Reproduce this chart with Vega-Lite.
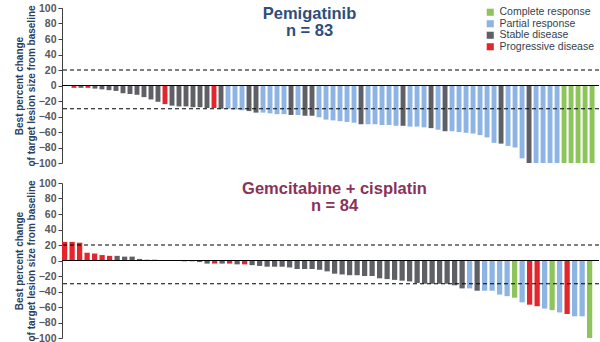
{
  "$schema": "https://vega.github.io/schema/vega-lite/v6.json",
  "padding": {"left": 13, "top": 3, "right": 2, "bottom": 0},
  "spacing": 9,
  "config": {
    "font": "Liberation Sans",
    "view": {"stroke": null},
    "axisY": {
      "grid": false,
      "tickCount": 11,
      "labelFontSize": 10.5,
      "labelFontWeight": "bold",
      "labelColor": "#595959",
      "labelPadding": 2,
      "labelOverlap": false,
      "tickSize": 4,
      "tickColor": "#404040",
      "domainColor": "#404040",
      "titleFontSize": 10,
      "titleFontWeight": "bold",
      "titleColor": "#2d3e5c",
      "titleLineHeight": 12,
      "titleX": -38,
      "titleY": 77.5
    }
  },
  "datasets": {
    "pemigatinib": [
      {"rank": 1, "change": -3, "response": "Progressive disease"},
      {"rank": 2, "change": -3, "response": "Stable disease"},
      {"rank": 3, "change": -3, "response": "Progressive disease"},
      {"rank": 4, "change": -4, "response": "Stable disease"},
      {"rank": 5, "change": -5, "response": "Stable disease"},
      {"rank": 6, "change": -6, "response": "Stable disease"},
      {"rank": 7, "change": -7, "response": "Stable disease"},
      {"rank": 8, "change": -10, "response": "Stable disease"},
      {"rank": 9, "change": -11, "response": "Stable disease"},
      {"rank": 10, "change": -12, "response": "Stable disease"},
      {"rank": 11, "change": -15, "response": "Stable disease"},
      {"rank": 12, "change": -18, "response": "Stable disease"},
      {"rank": 13, "change": -21, "response": "Stable disease"},
      {"rank": 14, "change": -24, "response": "Progressive disease"},
      {"rank": 15, "change": -26, "response": "Stable disease"},
      {"rank": 16, "change": -27, "response": "Stable disease"},
      {"rank": 17, "change": -27, "response": "Stable disease"},
      {"rank": 18, "change": -28, "response": "Stable disease"},
      {"rank": 19, "change": -28, "response": "Stable disease"},
      {"rank": 20, "change": -29, "response": "Stable disease"},
      {"rank": 21, "change": -29, "response": "Progressive disease"},
      {"rank": 22, "change": -30, "response": "Stable disease"},
      {"rank": 23, "change": -30, "response": "Partial response"},
      {"rank": 24, "change": -31, "response": "Partial response"},
      {"rank": 25, "change": -32, "response": "Partial response"},
      {"rank": 26, "change": -33, "response": "Stable disease"},
      {"rank": 27, "change": -35, "response": "Stable disease"},
      {"rank": 28, "change": -35, "response": "Partial response"},
      {"rank": 29, "change": -36, "response": "Partial response"},
      {"rank": 30, "change": -37, "response": "Partial response"},
      {"rank": 31, "change": -37, "response": "Partial response"},
      {"rank": 32, "change": -38, "response": "Stable disease"},
      {"rank": 33, "change": -38, "response": "Partial response"},
      {"rank": 34, "change": -39, "response": "Stable disease"},
      {"rank": 35, "change": -39, "response": "Stable disease"},
      {"rank": 36, "change": -41, "response": "Partial response"},
      {"rank": 37, "change": -44, "response": "Partial response"},
      {"rank": 38, "change": -45, "response": "Partial response"},
      {"rank": 39, "change": -46, "response": "Partial response"},
      {"rank": 40, "change": -47, "response": "Partial response"},
      {"rank": 41, "change": -48, "response": "Partial response"},
      {"rank": 42, "change": -50, "response": "Stable disease"},
      {"rank": 43, "change": -50, "response": "Partial response"},
      {"rank": 44, "change": -50, "response": "Partial response"},
      {"rank": 45, "change": -51, "response": "Partial response"},
      {"rank": 46, "change": -51, "response": "Partial response"},
      {"rank": 47, "change": -52, "response": "Partial response"},
      {"rank": 48, "change": -52, "response": "Stable disease"},
      {"rank": 49, "change": -53, "response": "Partial response"},
      {"rank": 50, "change": -53, "response": "Partial response"},
      {"rank": 51, "change": -54, "response": "Partial response"},
      {"rank": 52, "change": -55, "response": "Stable disease"},
      {"rank": 53, "change": -57, "response": "Partial response"},
      {"rank": 54, "change": -59, "response": "Stable disease"},
      {"rank": 55, "change": -59, "response": "Partial response"},
      {"rank": 56, "change": -60, "response": "Partial response"},
      {"rank": 57, "change": -61, "response": "Partial response"},
      {"rank": 58, "change": -62, "response": "Partial response"},
      {"rank": 59, "change": -64, "response": "Partial response"},
      {"rank": 60, "change": -67, "response": "Partial response"},
      {"rank": 61, "change": -74, "response": "Partial response"},
      {"rank": 62, "change": -75, "response": "Stable disease"},
      {"rank": 63, "change": -78, "response": "Partial response"},
      {"rank": 64, "change": -80, "response": "Partial response"},
      {"rank": 65, "change": -94, "response": "Partial response"},
      {"rank": 66, "change": -100, "response": "Stable disease"},
      {"rank": 67, "change": -100, "response": "Partial response"},
      {"rank": 68, "change": -100, "response": "Partial response"},
      {"rank": 69, "change": -100, "response": "Partial response"},
      {"rank": 70, "change": -100, "response": "Partial response"},
      {"rank": 71, "change": -100, "response": "Complete response"},
      {"rank": 72, "change": -100, "response": "Complete response"},
      {"rank": 73, "change": -100, "response": "Complete response"},
      {"rank": 74, "change": -100, "response": "Complete response"},
      {"rank": 75, "change": -100, "response": "Complete response"}
    ],
    "gemcis": [
      {"rank": 1, "change": 24, "response": "Progressive disease"},
      {"rank": 2, "change": 24, "response": "Progressive disease"},
      {"rank": 3, "change": 23, "response": "Progressive disease"},
      {"rank": 4, "change": 10, "response": "Progressive disease"},
      {"rank": 5, "change": 9, "response": "Progressive disease"},
      {"rank": 6, "change": 7, "response": "Progressive disease"},
      {"rank": 7, "change": 6, "response": "Progressive disease"},
      {"rank": 8, "change": 6, "response": "Stable disease"},
      {"rank": 9, "change": 5, "response": "Stable disease"},
      {"rank": 10, "change": 5, "response": "Stable disease"},
      {"rank": 11, "change": 2, "response": "Stable disease"},
      {"rank": 12, "change": 1, "response": "Stable disease"},
      {"rank": 13, "change": 1, "response": "Stable disease"},
      {"rank": 14, "change": 0.5, "response": "Stable disease"},
      {"rank": 15, "change": 0, "response": "Stable disease"},
      {"rank": 16, "change": 0, "response": "Stable disease"},
      {"rank": 17, "change": -1, "response": "Stable disease"},
      {"rank": 18, "change": -1, "response": "Stable disease"},
      {"rank": 19, "change": -2, "response": "Stable disease"},
      {"rank": 20, "change": -4, "response": "Stable disease"},
      {"rank": 21, "change": -4, "response": "Progressive disease"},
      {"rank": 22, "change": -4, "response": "Stable disease"},
      {"rank": 23, "change": -4, "response": "Progressive disease"},
      {"rank": 24, "change": -5, "response": "Stable disease"},
      {"rank": 25, "change": -5, "response": "Progressive disease"},
      {"rank": 26, "change": -6, "response": "Stable disease"},
      {"rank": 27, "change": -7, "response": "Stable disease"},
      {"rank": 28, "change": -8, "response": "Stable disease"},
      {"rank": 29, "change": -8, "response": "Stable disease"},
      {"rank": 30, "change": -8, "response": "Stable disease"},
      {"rank": 31, "change": -9, "response": "Stable disease"},
      {"rank": 32, "change": -11, "response": "Stable disease"},
      {"rank": 33, "change": -11, "response": "Stable disease"},
      {"rank": 34, "change": -11, "response": "Stable disease"},
      {"rank": 35, "change": -12, "response": "Stable disease"},
      {"rank": 36, "change": -14, "response": "Stable disease"},
      {"rank": 37, "change": -17, "response": "Stable disease"},
      {"rank": 38, "change": -18, "response": "Stable disease"},
      {"rank": 39, "change": -19, "response": "Stable disease"},
      {"rank": 40, "change": -19, "response": "Stable disease"},
      {"rank": 41, "change": -20, "response": "Stable disease"},
      {"rank": 42, "change": -20, "response": "Stable disease"},
      {"rank": 43, "change": -23, "response": "Stable disease"},
      {"rank": 44, "change": -24, "response": "Stable disease"},
      {"rank": 45, "change": -25, "response": "Stable disease"},
      {"rank": 46, "change": -26, "response": "Stable disease"},
      {"rank": 47, "change": -27, "response": "Stable disease"},
      {"rank": 48, "change": -29, "response": "Stable disease"},
      {"rank": 49, "change": -30, "response": "Stable disease"},
      {"rank": 50, "change": -30, "response": "Stable disease"},
      {"rank": 51, "change": -30, "response": "Stable disease"},
      {"rank": 52, "change": -30, "response": "Stable disease"},
      {"rank": 53, "change": -32, "response": "Stable disease"},
      {"rank": 54, "change": -36, "response": "Stable disease"},
      {"rank": 55, "change": -36, "response": "Partial response"},
      {"rank": 56, "change": -39, "response": "Stable disease"},
      {"rank": 57, "change": -39, "response": "Partial response"},
      {"rank": 58, "change": -39, "response": "Partial response"},
      {"rank": 59, "change": -44, "response": "Partial response"},
      {"rank": 60, "change": -46, "response": "Partial response"},
      {"rank": 61, "change": -48, "response": "Complete response"},
      {"rank": 62, "change": -54, "response": "Partial response"},
      {"rank": 63, "change": -57, "response": "Progressive disease"},
      {"rank": 64, "change": -59, "response": "Progressive disease"},
      {"rank": 65, "change": -62, "response": "Partial response"},
      {"rank": 66, "change": -64, "response": "Complete response"},
      {"rank": 67, "change": -67, "response": "Partial response"},
      {"rank": 68, "change": -69, "response": "Progressive disease"},
      {"rank": 69, "change": -72, "response": "Partial response"},
      {"rank": 70, "change": -72, "response": "Partial response"},
      {"rank": 71, "change": -100, "response": "Complete response"}
    ]
  },
  "resolve": {"legend": {"color": "independent"}},
  "vconcat": [
    {
      "width": 537,
      "height": 155,
      "title": {
        "text": ["Pemigatinib", "n = 83"],
        "color": "#2f4d7c",
        "fontSize": 16.5,
        "fontWeight": "bold",
        "lineHeight": 16.5,
        "anchor": "middle",
        "offset": -36,
        "dx": -21
      },
      "data": {"name": "pemigatinib"},
      "layer": [
        {
          "mark": {"type": "bar"},
          "encoding": {
            "x": {
              "field": "rank",
              "type": "ordinal",
              "axis": null,
              "scale": {"paddingInner": 0.3, "paddingOuter": 1.45, "align": 0.68}
            },
            "y": {
              "field": "change",
              "type": "quantitative",
              "scale": {"domain": [-100, 100]},
              "axis": {
                "values": [-100, -80, -60, -40, -20, 0, 20, 40, 60, 80, 100],
                "tickCount": 11,
                "title": ["Best percent change", "of target lesion size from baseline"]
              }
            },
            "color": {
              "field": "response",
              "type": "nominal",
              "scale": {
                "domain": ["Complete response", "Partial response", "Stable disease", "Progressive disease"],
                "range": ["#8dc45b", "#8db4e2", "#5f6065", "#e3262b"]
              },
              "legend": {
                "orient": "none",
                "legendX": 423,
                "legendY": -1,
                "title": null,
                "symbolType": "square",
                "symbolSize": 50,
                "symbolStrokeWidth": 0,
                "labelFontSize": 10.5,
                "labelColor": "#333f50",
                "rowPadding": 0.5
              }
            }
          }
        },
        {
          "data": {"values": [{"ref": 20}, {"ref": -30}]},
          "mark": {"type": "rule", "color": "#000000", "strokeDash": [4, 3], "strokeWidth": 1},
          "encoding": {"y": {"field": "ref", "type": "quantitative"}}
        },
        {
          "data": {"values": [{"ref": 0}]},
          "mark": {"type": "rule", "color": "#000000", "strokeWidth": 1.2},
          "encoding": {"y": {"field": "ref", "type": "quantitative"}}
        }
      ]
    },
    {
      "width": 537,
      "height": 155,
      "title": {
        "text": ["Gemcitabine + cisplatin", "n = 84"],
        "color": "#8a3259",
        "fontSize": 16.5,
        "fontWeight": "bold",
        "lineHeight": 16.5,
        "anchor": "middle",
        "offset": -36,
        "dx": 4
      },
      "data": {"name": "gemcis"},
      "layer": [
        {
          "mark": {"type": "bar"},
          "encoding": {
            "x": {
              "field": "rank",
              "type": "ordinal",
              "axis": null,
              "scale": {"paddingInner": 0.3, "paddingOuter": 0.45, "align": 0}
            },
            "y": {
              "field": "change",
              "type": "quantitative",
              "scale": {"domain": [-100, 100]},
              "axis": {
                "values": [-100, -80, -60, -40, -20, 0, 20, 40, 60, 80, 100],
                "tickCount": 11,
                "title": ["Best percent change", "of target lesion size from baseline"]
              }
            },
            "color": {
              "field": "response",
              "type": "nominal",
              "scale": {
                "domain": ["Complete response", "Partial response", "Stable disease", "Progressive disease"],
                "range": ["#8dc45b", "#8db4e2", "#5f6065", "#e3262b"]
              },
              "legend": null
            }
          }
        },
        {
          "data": {"values": [{"ref": 20}, {"ref": -30}]},
          "mark": {"type": "rule", "color": "#000000", "strokeDash": [4, 3], "strokeWidth": 1},
          "encoding": {"y": {"field": "ref", "type": "quantitative"}}
        },
        {
          "data": {"values": [{"ref": 0}]},
          "mark": {"type": "rule", "color": "#000000", "strokeWidth": 1.2},
          "encoding": {"y": {"field": "ref", "type": "quantitative"}}
        }
      ]
    }
  ]
}
